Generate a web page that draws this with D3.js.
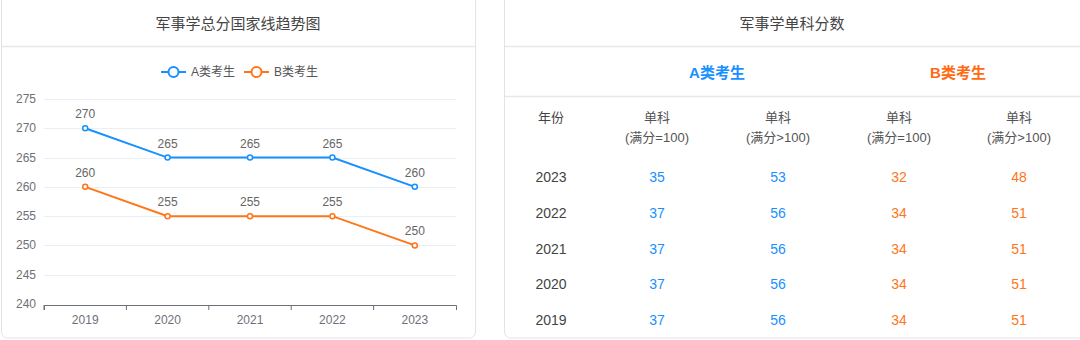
<!DOCTYPE html>
<html lang="zh">
<head>
    <meta charset="UTF-8">
    <script src="https://cdn.jsdelivr.net/npm/d3@7/dist/d3.min.js"></script>
    <title>军事学分数</title>
    <style>
        body { margin: 0; background: #fff; }
        svg { display: block; font-family: "Liberation Sans", "Noto Sans CJK SC", sans-serif; }
        .card { fill: #fff; stroke: #e3e3e3; stroke-width: 1; }
        .divider { stroke: #e8e8e8; stroke-width: 1.5; }
        .grid line { stroke: #e9eef7; }
    </style>
</head>
<body>
<svg id="chart" width="1080" height="340"></svg>
<script>
    // line chart data
    var years = ["2019", "2020", "2021", "2022", "2023"];
    var seriesA = [270, 265, 265, 265, 260];
    var seriesB = [260, 255, 255, 255, 250];
    var yTicks = [240, 245, 250, 255, 260, 265, 270, 275];

    // table data
    var tableYears = ["2023", "2022", "2021", "2020", "2019"];
    var aSingle100 = [35, 37, 37, 37, 37];
    var aSingleOver = [53, 56, 56, 56, 56];
    var bSingle100 = [32, 34, 34, 34, 34];
    var bSingleOver = [48, 51, 51, 51, 51];
    var colHeads = ["(满分=100)", "(满分>100)", "(满分=100)", "(满分>100)"];

    var blue = "#1890ff";
    var orange = "#ff7518";

    var svg = d3.select("#chart");

    // cards
    svg.append("rect").attr("class", "card")
            .attr("x", 1.5).attr("y", -6).attr("width", 474).attr("height", 344).attr("rx", 6);
    svg.append("rect").attr("class", "card")
            .attr("x", 504.5).attr("y", -6).attr("width", 580).attr("height", 344).attr("rx", 6);

    svg.append("line").attr("class", "divider").attr("x1", 2).attr("x2", 475).attr("y1", 46.5).attr("y2", 46.5);
    svg.append("line").attr("class", "divider").attr("x1", 505).attr("x2", 1080).attr("y1", 46.5).attr("y2", 46.5);
    svg.append("line").attr("class", "divider").attr("x1", 505).attr("x2", 1080).attr("y1", 96.5).attr("y2", 96.5);

    svg.append("text").attr("x", 238).attr("y", 29).attr("text-anchor", "middle")
            .attr("font-size", 15).attr("fill", "#444").text("军事学总分国家线趋势图");
    svg.append("text").attr("x", 792).attr("y", 29).attr("text-anchor", "middle")
            .attr("font-size", 15).attr("fill", "#444").text("军事学单科分数");

    // ---- line chart ----
    var x = d3.scaleBand().domain(years).range([44, 456]);
    var y = d3.scaleLinear().domain([240, 275]).range([304, 99]);

    var grid = svg.append("g").attr("class", "grid");
    grid.selectAll("line")
            .data(yTicks.slice(1))
            .enter().append("line")
            .attr("x1", 44).attr("x2", 456)
            .attr("y1", function (d) { return Math.round(y(d)) + 0.5; })
            .attr("y2", function (d) { return Math.round(y(d)) + 0.5; });

    svg.append("g").selectAll("text")
            .data(yTicks)
            .enter().append("text")
            .attr("x", 36).attr("y", function (d) { return y(d) + 4; })
            .attr("text-anchor", "end").attr("font-size", 12).attr("fill", "#6e7079")
            .text(function (d) { return d; });

    var xAxis = svg.append("g")
            .attr("transform", "translate(0," + 305 + ")")
            .call(d3.axisBottom(x).tickSize(5).tickSizeOuter(5).tickPadding(5));
    xAxis.select(".domain").attr("stroke", "#6e7079");
    xAxis.selectAll(".tick line").attr("stroke", "#6e7079")
            .attr("transform", function () { return "translate(" + (-x.bandwidth() / 2) + ",0)"; });
    xAxis.selectAll(".tick text").attr("fill", "#6e7079").attr("font-size", 12)
            .attr("font-family", "Liberation Sans, sans-serif");

    var series = [
        {name: "A类考生", values: seriesA, color: blue},
        {name: "B类考生", values: seriesB, color: orange}
    ];

    var line = d3.line()
            .x(function (d, i) { return x(years[i]) + x.bandwidth() / 2; })
            .y(function (d) { return y(d); });

    series.forEach(function (s) {
        svg.append("path").datum(s.values)
                .attr("d", line).attr("fill", "none")
                .attr("stroke", s.color).attr("stroke-width", 2);
        svg.append("g").selectAll("circle")
                .data(s.values)
                .enter().append("circle")
                .attr("cx", function (d, i) { return x(years[i]) + x.bandwidth() / 2; })
                .attr("cy", function (d) { return y(d); })
                .attr("r", 2.5).attr("fill", "#fff")
                .attr("stroke", s.color).attr("stroke-width", 1.5);
        svg.append("g").selectAll("text")
                .data(s.values)
                .enter().append("text")
                .attr("x", function (d, i) { return x(years[i]) + x.bandwidth() / 2; })
                .attr("y", function (d) { return y(d) - 10; })
                .attr("text-anchor", "middle").attr("font-size", 12).attr("fill", "#666")
                .text(function (d) { return d; });
    });

    // legend
    var legend = svg.append("g").selectAll("g")
            .data(series)
            .enter().append("g")
            .attr("transform", function (d, i) { return "translate(" + (161 + i * 83) + ",72)"; });
    legend.append("line").attr("x1", 0).attr("x2", 25).attr("y1", 0).attr("y2", 0)
            .attr("stroke", function (d) { return d.color; }).attr("stroke-width", 2);
    legend.append("circle").attr("cx", 12.5).attr("cy", 0).attr("r", 5)
            .attr("fill", "#fff").attr("stroke", function (d) { return d.color; }).attr("stroke-width", 2);
    legend.append("text").attr("x", 30).attr("y", 4).attr("font-size", 12).attr("fill", "#555")
            .text(function (d) { return d.name; });

    // ---- table ----
    // first column sits further left than an even spread
    var colPos = [551, 657, 778, 899, 1019];
    var rowY = d3.scaleBand().domain(tableYears).range([159, 338]);

    svg.append("g").selectAll("text")
            .data(series)
            .enter().append("text")
            .attr("x", function (d, i) { return i === 0 ? 717 : 958; })
            .attr("y", 78).attr("text-anchor", "middle")
            .attr("font-size", 15).attr("font-weight", "bold")
            .attr("fill", function (d, i) { return i === 0 ? blue : "#ff6a13"; })
            .text(function (d) { return d.name; });

    svg.append("text").attr("x", colPos[0]).attr("y", 122).attr("text-anchor", "middle")
            .attr("font-size", 13).attr("fill", "#444").text("年份");

    var head = svg.append("g").selectAll("g")
            .data(colHeads)
            .enter().append("g");
    head.append("text")
            .attr("x", function (d, i) { return colPos[i + 1]; }).attr("y", 122)
            .attr("text-anchor", "middle").attr("font-size", 13).attr("fill", "#555")
            .text("单科");
    head.append("text")
            .attr("x", function (d, i) { return colPos[i + 1]; }).attr("y", 142)
            .attr("text-anchor", "middle").attr("font-size", 13).attr("fill", "#555")
            .text(function (d) { return d; });

    var cols = [
        {vals: tableYears, color: "#444"},
        {vals: aSingle100, color: blue},
        {vals: aSingleOver, color: blue},
        {vals: bSingle100, color: orange},
        {vals: bSingleOver, color: orange}
    ];
    cols.forEach(function (c, ci) {
        svg.append("g").selectAll("text")
                .data(c.vals)
                .enter().append("text")
                .attr("x", colPos[ci])
                .attr("y", function (d, i) { return rowY(tableYears[i]) + rowY.bandwidth() / 2 + 5; })
                .attr("text-anchor", "middle").attr("font-size", 14).attr("fill", c.color)
                .text(function (d) { return d; });
    });
</script>
</body>
</html>
